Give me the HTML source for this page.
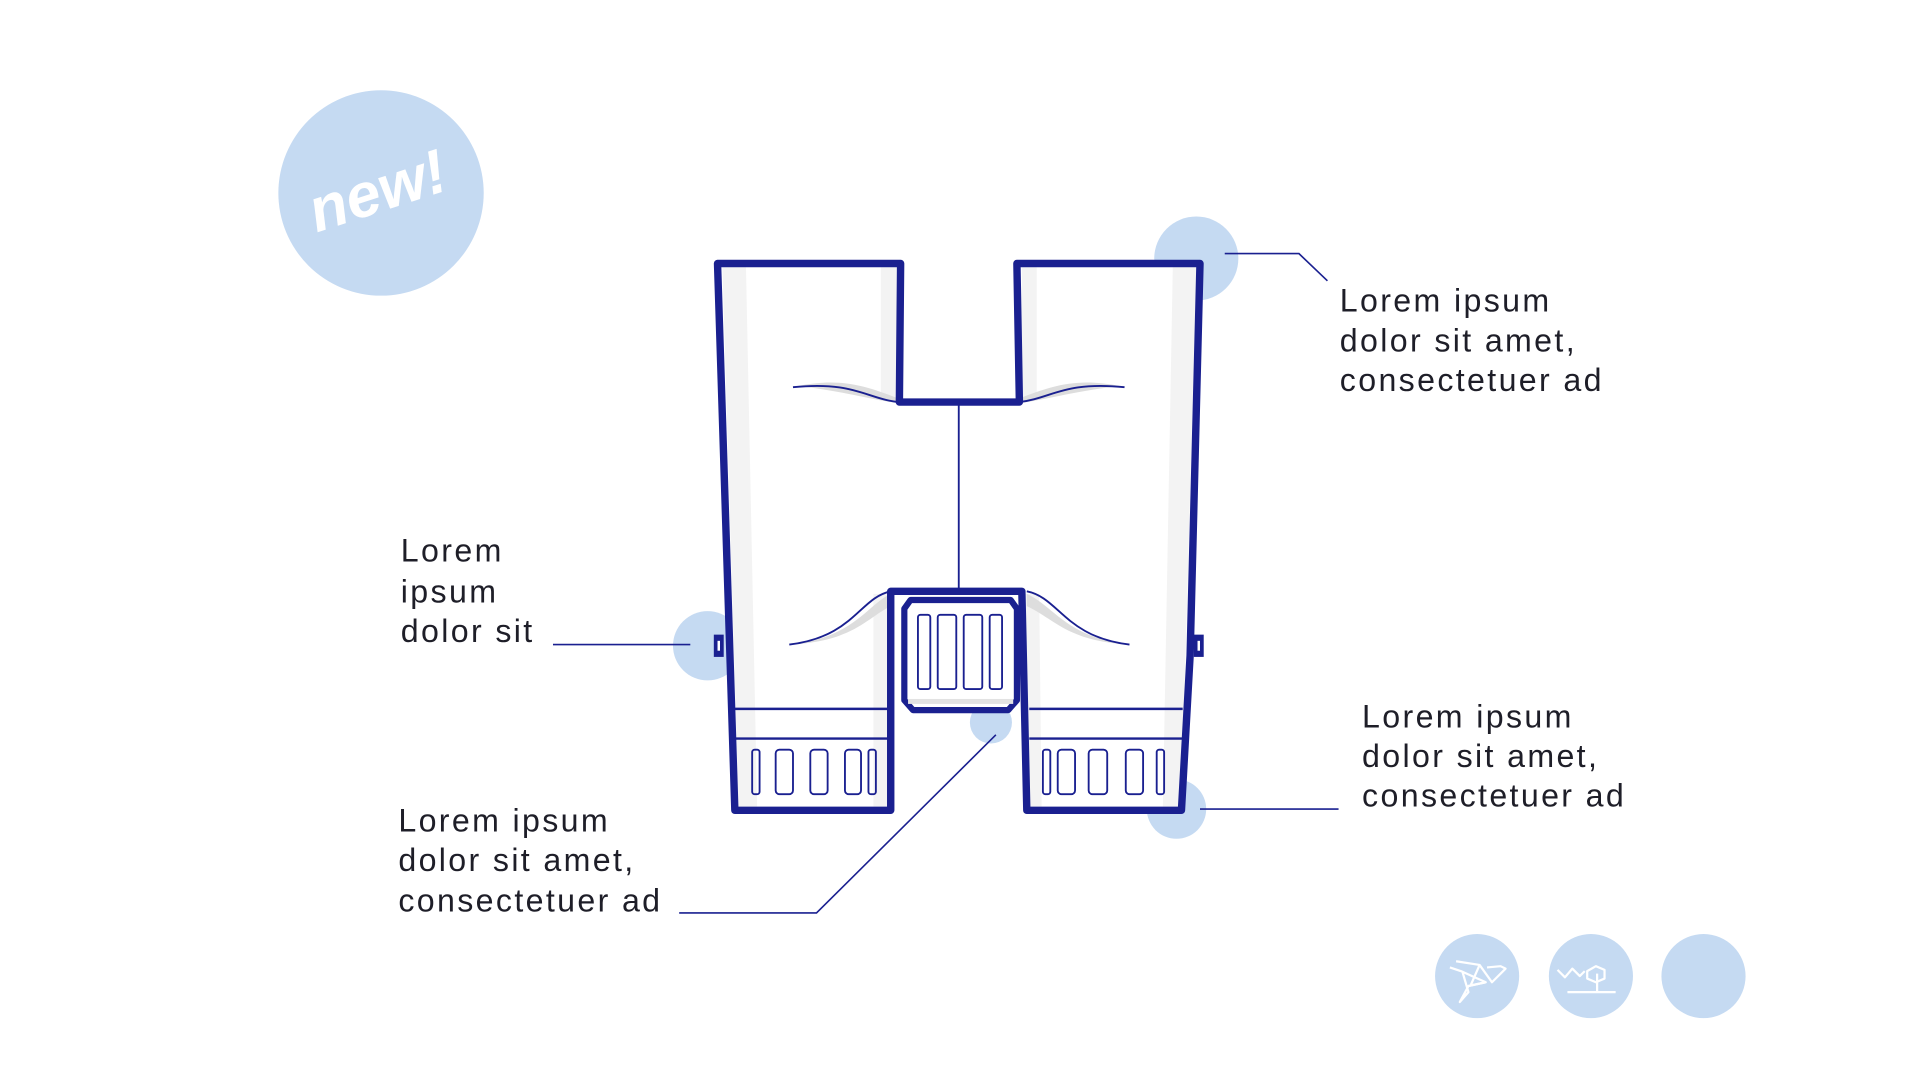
<!DOCTYPE html>
<html><head><meta charset="utf-8"><style>
html,body{margin:0;padding:0;background:#fff;width:1920px;height:1080px;overflow:hidden}
svg{display:block}
text{font-family:"Liberation Sans",sans-serif;fill:#1e1e28;font-size:26px;letter-spacing:1.9px}
</style></head><body>
<svg width="1920" height="1080" viewBox="0 0 1552 873" xmlns="http://www.w3.org/2000/svg">
<circle cx="308" cy="156" r="83" fill="#c5daf2"/>
<text x="256" y="188" transform="rotate(-18 256 188)" style="font-size:50px;fill:#fff;font-style:italic;font-weight:bold;letter-spacing:0">new!</text>

<circle cx="967" cy="209" r="34" fill="#c5daf2"/>
<circle cx="572" cy="522" r="28" fill="#c5daf2"/>
<circle cx="801" cy="584" r="17" fill="#c5daf2"/>
<circle cx="951" cy="654" r="24" fill="#c5daf2"/>

<path d="M580,213 L728,213 L727,325 L824,325 L822,213 L970,213 L962,530 L955,655 L830,655 L826,478 L720,478 L720,655 L594,655 Z" fill="#fff"/>
<path d="M584,216 L603,216 L612,652 L597,652 Z" fill="#f3f3f3"/>
<path d="M712,216 L725,216 L724,322 L712,322 Z" fill="#f3f3f3"/>
<path d="M706,480 L718,480 L717,652 L706,652 Z" fill="#f3f3f3"/>
<path d="M826,216 L838,216 L838,322 L826,322 Z" fill="#f3f3f3"/>
<path d="M829,480 L840,480 L842,652 L832,652 Z" fill="#f3f3f3"/>
<path d="M948,216 L967,216 L955,652 L940,652 Z" fill="#f3f3f3"/>
<path d="M645,312 C680,305 700,312 726,322 L726,326 C700,322 680,316 645,312Z" fill="#ddd"/>
<path d="M905,312 C870,305 850,312 824,322 L824,326 C850,322 870,316 905,312Z" fill="#ddd"/>
<path d="M640,521 C690,515 700,490 720,480 L720,490 C700,500 690,518 640,521Z" fill="#ddd"/>
<path d="M912,521 C862,515 852,490 830,480 L830,490 C852,500 862,518 912,521Z" fill="#ddd"/>
<g fill="none" stroke="#1a2090" stroke-width="1.5">
<path d="M641,313 C690,308 700,322 726,325"/>
<path d="M909,313 C860,308 850,322 824,325"/>
<path d="M638,521 C690,515 695,483 720,478"/>
<path d="M913,521 C861,515 856,483 830,478"/>
<line x1="775" y1="325" x2="775" y2="478"/>
</g>
<path d="M580,213 L728,213 L727,325 L824,325 L822,213 L970,213 L962,530 L955,655 L830,655 L826,478 L720,478 L720,655 L594,655 Z" fill="none" stroke="#1a2090" stroke-width="6" stroke-linejoin="round"/>
<rect x="577" y="513" width="8" height="18" fill="#1a2090"/><rect x="580" y="518" width="2" height="8" fill="#fff"/>
<rect x="965" y="513" width="8" height="18" fill="#1a2090"/><rect x="968" y="518" width="2" height="8" fill="#fff"/>
<g stroke="#1a2090" stroke-width="2" fill="none">
<line x1="594" y1="573" x2="718" y2="573"/><line x1="594" y1="597" x2="718" y2="597"/>
<line x1="832" y1="573" x2="956" y2="573"/><line x1="832" y1="597" x2="956" y2="597"/>
</g>
<g stroke="#1a2090" stroke-width="1.5" fill="none">
<rect x="608" y="606" width="6" height="36" rx="2"/>
<rect x="627" y="606" width="14" height="36" rx="3"/>
<rect x="655" y="606" width="14" height="36" rx="3"/>
<rect x="683" y="606" width="13" height="36" rx="3"/>
<rect x="702" y="606" width="6" height="36" rx="2"/>
<rect x="843" y="606" width="6" height="36" rx="2"/>
<rect x="855" y="606" width="14" height="36" rx="3"/>
<rect x="880" y="606" width="15" height="36" rx="3"/>
<rect x="910" y="606" width="14" height="36" rx="3"/>
<rect x="935" y="606" width="6" height="36" rx="2"/>
</g>
<path d="M736,485 L817,485 L822,492 L822,566 L815,574 L738,574 L731,566 L731,492 Z" fill="#fff" stroke="#1a2090" stroke-width="5" stroke-linejoin="round"/>
<rect x="734" y="565" width="85" height="4" fill="#e2e2e2"/>
<g stroke="#1a2090" stroke-width="1.5" fill="none">
<rect x="742" y="497" width="10" height="60" rx="2"/>
<rect x="758" y="497" width="15" height="60" rx="2"/>
<rect x="779" y="497" width="15" height="60" rx="2"/>
<rect x="800" y="497" width="10" height="60" rx="2"/>
</g>

<g stroke="#1a2090" stroke-width="1.3" fill="none">
<polyline points="990,205 1050,205 1073,227"/>
<line x1="447" y1="521" x2="558" y2="521"/>
<polyline points="805,594 660,738 549,738"/>
<line x1="970" y1="654" x2="1082" y2="654"/>
</g>

<text x="1083" y="252">Lorem ipsum</text><text x="1083" y="284">dolor sit amet,</text><text x="1083" y="316">consectetuer ad</text>
<text x="324" y="454">Lorem</text><text x="324" y="487">ipsum</text><text x="324" y="519">dolor sit</text>
<text x="322" y="672">Lorem ipsum</text><text x="322" y="704">dolor sit amet,</text><text x="322" y="737">consectetuer ad</text>
<text x="1101" y="588">Lorem ipsum</text><text x="1101" y="620">dolor sit amet,</text><text x="1101" y="652">consectetuer ad</text>

<circle cx="1194" cy="789" r="34" fill="#c5daf2"/>
<circle cx="1286" cy="789" r="34" fill="#c5daf2"/>
<circle cx="1377" cy="789" r="34" fill="#c5daf2"/>
<g stroke="#fff" stroke-width="1.8" fill="none" stroke-linejoin="round">
<polyline points="1177,777 1196,780 1206,794 1217,783 1213,781 1202,782"/>
<polyline points="1172,782 1181,785 1201,794 1187,797 1180,810 1187,802 1182,785"/>
<line x1="1196" y1="780" x2="1189" y2="796"/>
<line x1="1201" y1="794" x2="1187" y2="797"/>
<polyline points="1259,784 1265,790 1271,783 1277,789 1281,785"/>
<polygon points="1283,785 1290,781 1297,784 1297,791 1290,794 1283,791"/>
<line x1="1291" y1="787" x2="1291" y2="802"/>
<line x1="1267" y1="802" x2="1306" y2="802"/>
</g>
</svg>
</body></html>
